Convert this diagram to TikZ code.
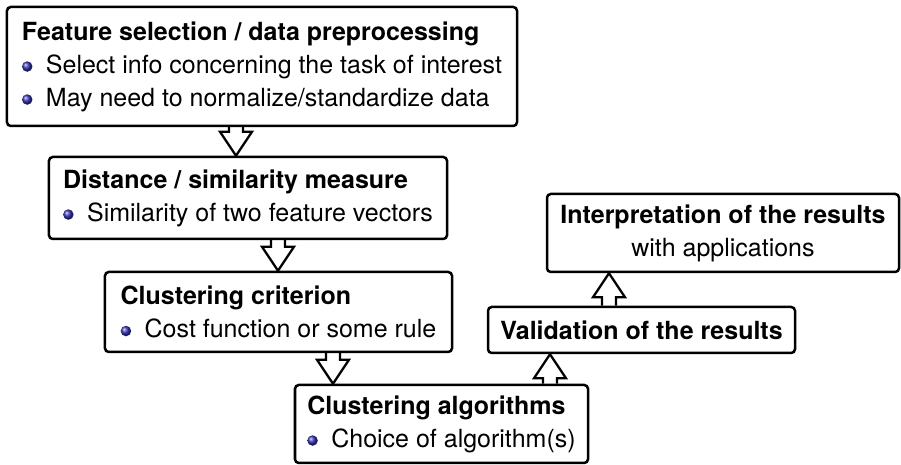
\documentclass[tikz,border=0pt]{standalone}
\usepackage{fontspec}
\setmainfont{TeX Gyre Heros}
\usetikzlibrary{calc}
\definecolor{ballblue}{rgb}{0.2,0.2,0.7}

\newcommand{\ballitem}{\tikz[baseline=-0.5ex]\shade[ball color=ballblue] (0,0) circle (2.1pt);\hspace{5.4pt}}
\newcommand{\hollowarrow}[2]{%
  \coordinate (hs) at (#1);
  \coordinate (ht) at (#2);
  \coordinate (hb) at ($(ht)!9.6pt!(hs)$);
  \draw[flow] ($(hs)!2.8pt!90:(ht)$) -- ($(hb)!2.8pt!90:(ht)$) -- ($(hb)!6.4pt!90:(ht)$) -- (ht)
    -- ($(hb)!6.4pt!-90:(ht)$) -- ($(hb)!2.8pt!-90:(ht)$) -- ($(hs)!2.8pt!-90:(ht)$);
}

\begin{document}
\begin{tikzpicture}[x=0.4pt, y=-0.4pt, font=\fontsize{10pt}{13.2pt}\selectfont,
    stage/.style={draw, line width=1pt, rounded corners=1.5pt, align=left, inner sep=0pt},
    flow/.style={line width=0.9pt, line join=miter}]
                \useasboundingbox (0,0) rectangle (901,465);
                \node[stage, minimum width=204pt, minimum height=47.6pt] (fs) at (262,66.5)
                    {\textbf{Feature selection / data preprocessing}\\
                     \ballitem Select info concerning the task of interest\\
                     \ballitem May need to normalize/standardize data};
                \node[stage, minimum width=159.2pt, minimum height=32.8pt] (dm) at (248,198)
                    {\textbf{Distance / similarity measure}\\
                     \ballitem Similarity of two feature vectors};
                \node[stage, minimum width=138.8pt, minimum height=32pt] (cc) at (278.5,312)
                    {\textbf{Clustering criterion}\\
                     \ballitem Cost function or some rule};
                \node[stage, minimum width=117.2pt, minimum height=31.2pt] (ca) at (441.5,424)
                    {\textbf{Clustering algorithms}\\
                     \ballitem Choice of algorithm(s)};
                \node[stage, minimum width=122.8pt, minimum height=18.4pt] (vr) at (641.5,330)
                    {\textbf{Validation of the results}};
                \node[stage, align=center, minimum width=140.8pt, minimum height=31.2pt] (ir) at (723,233)
                    {\textbf{Interpretation of the results}\\ with applications};
                \coordinate (a1) at ($(fs.south)+(-26,0)$);
                \coordinate (a2) at ($(dm.south)+(30,0)$);
                \coordinate (a3) at ($(cc.south)+(54.5,0)$);
                \coordinate (a4) at ($(ca.north)+(108.5,0)$);
                \coordinate (a5) at ($(vr.north)+(-32.5,0)$);
                \hollowarrow{a1}{a1 |- dm.north}
                \hollowarrow{a2}{a2 |- cc.north}
                \hollowarrow{a3}{a3 |- ca.north}
                \hollowarrow{a4}{a4 |- vr.south}
                \hollowarrow{a5}{a5 |- ir.south}
            \end{tikzpicture}
\end{document}
